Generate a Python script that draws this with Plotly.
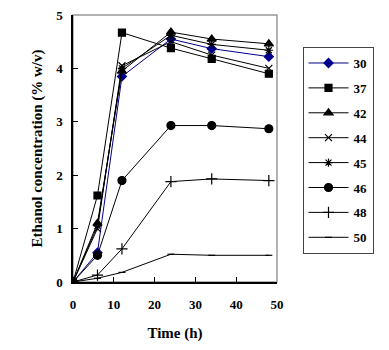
import plotly.graph_objects as go

# Sampling times (h)
time_h = [0, 6, 12, 24, 34, 48]

# Ethanol concentration (% w/v) per temperature series
eth_30 = [0, 0.55, 3.85, 4.55, 4.37, 4.22]
eth_37 = [0, 1.62, 4.67, 4.38, 4.18, 3.90]
eth_42 = [0, 1.10, 3.95, 4.68, 4.55, 4.46]
eth_44 = [0, 1.00, 4.05, 4.50, 4.25, 4.00]
eth_45 = [0, 1.05, 4.00, 4.62, 4.45, 4.34]
eth_46 = [0, 0.50, 1.90, 2.93, 2.93, 2.87]
eth_48 = [0, 0.13, 0.62, 1.88, 1.93, 1.90]
eth_50 = [0, 0.07, 0.18, 0.52, 0.50, 0.50]

series_names = ['30', '37', '42', '44', '45', '46', '48', '50']
series_values = [eth_30, eth_37, eth_42, eth_44, eth_45, eth_46, eth_48, eth_50]

styles = {
    '30': dict(symbol='diamond', size=7, color='#00008B'),
    '37': dict(symbol='square', size=7, color='black'),
    '42': dict(symbol='triangle-up', size=8, color='black'),
    '44': dict(symbol='x-thin-open', size=7, color='black'),
    '45': dict(symbol='asterisk-open', size=7, color='black'),
    '46': dict(symbol='circle', size=8, color='black'),
    '48': dict(symbol='cross-thin-open', size=8, color='black'),
    '50': dict(symbol='line-ew-open', size=5, color='black'),
}

font_family = 'Liberation Serif'

fig = go.Figure()
for name, vals in zip(series_names, series_values):
    st = styles[name]
    fig.add_trace(go.Scatter(
        x=time_h, y=vals, mode='lines+markers', name=name,
        legendgroup=name,
        line=dict(color=st['color'], width=1),
        marker=dict(symbol=st['symbol'], size=st['size'], color=st['color'],
                    line=dict(color=st['color'], width=1.2)),
    ))

# page body has an 8px margin, so the figure is a bit smaller than the window
fig.update_layout(
    width=381, height=342,
    margin=dict(l=65, r=112, t=7, b=68),
    plot_bgcolor='white', paper_bgcolor='white',
    font=dict(family=font_family, size=13, color='black'),
    legend=dict(
        x=1.125, y=0.88, xanchor='left', yanchor='top',
        bordercolor='#444', borderwidth=1,
        font=dict(family=font_family, size=13, color='black', weight='bold'),
        tracegroupgap=5, itemwidth=40,
    ),
    shapes=[dict(type='rect', xref='paper', yref='paper', x0=0, x1=1, y0=0, y1=1,
                 line=dict(color='#999', width=1.5), layer='below')],
)

fig.update_xaxes(
    range=[0, 50], tickvals=[0, 10, 20, 30, 40, 50],
    ticks='inside', ticklen=5, tickcolor='black', automargin=False,
    ticklabelstandoff=10,
    showline=True, linecolor='black', linewidth=1.5, showgrid=False, zeroline=False,
    tickfont=dict(family=font_family, size=13, weight='bold'),
    title=dict(text='Time (h)', font=dict(family=font_family, size=15, weight='bold'), standoff=16),
)
fig.update_yaxes(
    range=[0, 5], tickvals=[0, 1, 2, 3, 4, 5],
    ticks='inside', ticklen=5, tickcolor='black', automargin=False,
    ticklabeloverflow='allow', ticklabelstandoff=6,
    showline=True, linecolor='black', linewidth=1.5, showgrid=False, zeroline=False,
    tickfont=dict(family=font_family, size=13, weight='bold'),
    title=dict(text='Ethanol concentration (% w/v)',
               font=dict(family=font_family, size=15, weight='bold'), standoff=10),
)

fig.write_html('out.html')
